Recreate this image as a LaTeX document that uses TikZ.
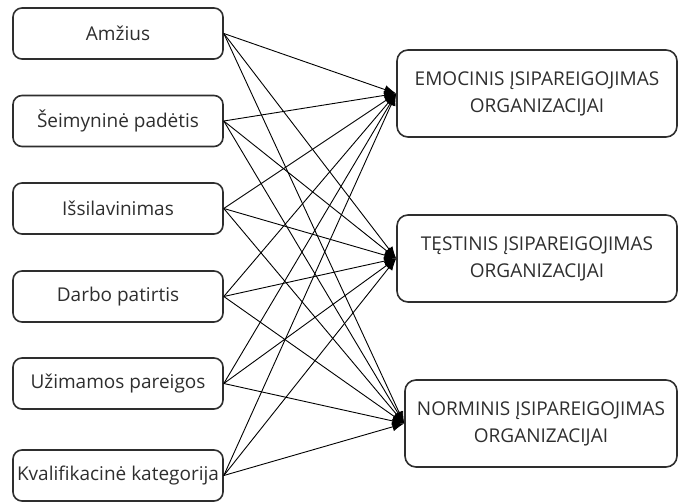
\documentclass[tikz,border=0pt]{standalone}
\usepackage{fontspec}
\setmainfont{Open Sans}
\usetikzlibrary{arrows.meta}
\definecolor{ink}{HTML}{2E2E2E}
\begin{document}
\begin{tikzpicture}[x=1pt,y=-1pt,
  factor/.style={draw=ink, line width=1.6pt, rounded corners=9pt,
    minimum width=210pt, minimum height=51pt, inner sep=0pt,
    text=ink, font=\fontsize{19}{27}\selectfont},
  outcome/.style={draw=ink, line width=1.6pt, rounded corners=11pt,
    minimum height=87pt, inner sep=0pt, align=center,
    text=ink, font=\fontsize{19}{27}\selectfont},
  link/.style={line width=0.9pt, black, -{Latex[length=12pt,width=9pt]}}]
\useasboundingbox (0,0) rectangle (678,502);

% factors on the left
\node[factor] (a) at (118,33.5) {Amžius};
\node[factor] (b) at (118,121) {Šeimyninė padėtis};
\node[factor] (c) at (118,208.5) {Išsilavinimas};
\node[factor] (d) at (118,296.5) {Darbo patirtis};
\node[factor] (e) at (118,383.5) {Užimamos pareigos};
\node[factor] (f) at (118,475.5) {Kvalifikacinė kategorija};

% commitment types on the right
\node[outcome, minimum width=280pt] (em) at (537,93.5) {EMOCINIS ĮSIPAREIGOJIMAS\\ORGANIZACIJAI};
\node[outcome, minimum width=280pt] (te) at (537,258.5) {TĘSTINIS ĮSIPAREIGOJIMAS\\ORGANIZACIJAI};
\node[outcome, minimum width=272pt] (no) at (541,423.5) {NORMINIS ĮSIPAREIGOJIMAS\\ORGANIZACIJAI};

% every factor points to every commitment type
\foreach \s in {a,b,c,d,e,f}{
  \foreach \t in {em,te,no}{
    \draw[link] (\s.east) -- (\t.west);
  }
}
\end{tikzpicture}
\end{document}
